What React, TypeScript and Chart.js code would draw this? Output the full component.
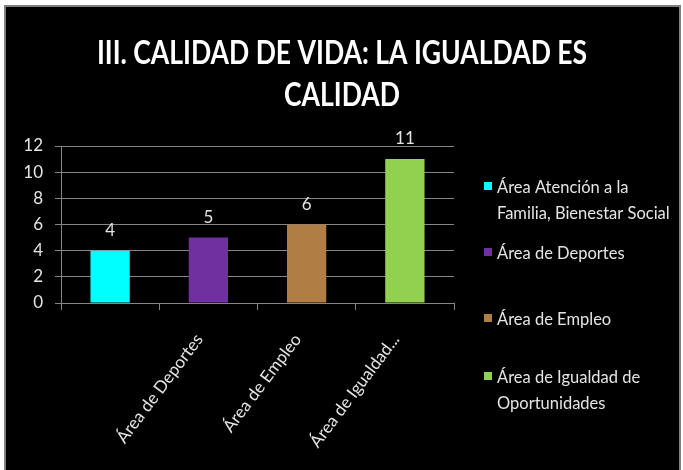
import React, { useEffect, useRef } from "react";
import { Chart, registerables } from "chart.js";

Chart.register(...registerables);

const TITLE_LINES = ["III. CALIDAD DE VIDA: LA IGUALDAD ES", "CALIDAD"];
const CATEGORIES = [
  "Área Atención a la Familia, Bienestar Social",
  "Área de Deportes",
  "Área de Empleo",
  "Área de Igualdad de Oportunidades",
];
const TICK_LABELS = ["", "Área de Deportes", "Área de Empleo", "Área de Igualdad..."];
const VALUES = [4, 5, 6, 11];
const COLORS = ["#00FFFF", "#7030A0", "#B07E45", "#92D050"];
const Y_MIN = 0;
const Y_MAX = 12;
const Y_STEP = 2;

const FONT = "Lato, 'Open Sans', sans-serif";
const TEXT_COLOR = "#E4E4E4";
const GRID_COLOR = "#868686";

const W = 683;
const H = 470;

const titlePlugin = {
  id: "customTitle",
  afterDraw(chart: any) {
    const ctx = chart.ctx;
    ctx.save();
    ctx.fillStyle = "#FFFFFF";
    ctx.font = `bold 32px ${FONT}`;
    ctx.textAlign = "center";
    ctx.textBaseline = "alphabetic";
    const baselines = [64, 106];
    const cx = 342;
    const squeeze = 0.83;
    ctx.translate(cx, 0);
    ctx.scale(squeeze, 1);
    TITLE_LINES.forEach((line, i) => ctx.fillText(line, 0, baselines[i]));
    ctx.restore();
  },
};

const valueLabelPlugin = {
  id: "valueLabels",
  afterDatasetsDraw(chart: any) {
    const ctx = chart.ctx;
    const meta = chart.getDatasetMeta(0);
    ctx.save();
    ctx.fillStyle = TEXT_COLOR;
    ctx.font = `17px ${FONT}`;
    ctx.textAlign = "center";
    ctx.textBaseline = "alphabetic";
    meta.data.forEach((bar: any, i: number) => {
      ctx.fillText(String(VALUES[i]), bar.x, bar.y - 15);
    });
    ctx.restore();
  },
};

function wrapText(ctx: CanvasRenderingContext2D, text: string, maxWidth: number): string[] {
  const words = text.split(" ");
  const lines: string[] = [];
  let cur = "";
  words.forEach((w) => {
    const test = cur ? cur + " " + w : w;
    if (ctx.measureText(test).width > maxWidth && cur) {
      lines.push(cur);
      cur = w;
    } else {
      cur = test;
    }
  });
  if (cur) lines.push(cur);
  return lines;
}

const legendPlugin = {
  id: "customLegend",
  afterDraw(chart: any) {
    const ctx = chart.ctx;
    ctx.save();
    ctx.font = `16.5px ${FONT}`;
    ctx.textAlign = "left";
    ctx.textBaseline = "alphabetic";
    const baselines = [193, 259, 325, 383];
    const lineHeight = 26;
    const markerX = 484;
    const textX = 497;
    CATEGORIES.forEach((label, i) => {
      const b = baselines[i];
      ctx.fillStyle = COLORS[i];
      ctx.fillRect(markerX, b - 11, 8, 8);
      ctx.fillStyle = TEXT_COLOR;
      const lines = wrapText(ctx, label, 178);
      lines.forEach((ln, j) => ctx.fillText(ln, textX, b + j * lineHeight));
    });
    ctx.restore();
  },
};

export default function App() {
  const canvasRef = useRef<HTMLCanvasElement | null>(null);

  useEffect(() => {
    if (!canvasRef.current) return;
    const chart = new Chart(canvasRef.current, {
      type: "bar",
      data: {
        labels: TICK_LABELS,
        datasets: [
          {
            data: VALUES,
            backgroundColor: COLORS,
            borderWidth: 0,
            categoryPercentage: 1,
            barPercentage: 0.4,
          },
        ],
      },
      options: {
        animation: false,
        responsive: false,
        layout: { padding: { left: 25, right: W - 454, top: 146, bottom: 0 } },
        plugins: {
          legend: { display: false },
          title: { display: false },
          tooltip: { enabled: false },
        },
        scales: {
          x: {
            grid: {
              offset: true,
              drawOnChartArea: false,
              drawTicks: true,
              tickLength: 7,
              color: GRID_COLOR,
            },
            border: { color: GRID_COLOR },
            ticks: {
              color: TEXT_COLOR,
              font: { family: FONT, size: 17 },
              minRotation: 53,
              maxRotation: 53,
              autoSkip: false,
              padding: 20,
              labelOffset: -9,
            },
            afterFit(scale: any) {
              scale.height = H - 303;
            },
          },
          y: {
            min: Y_MIN,
            max: Y_MAX,
            ticks: {
              stepSize: Y_STEP,
              color: TEXT_COLOR,
              font: { family: FONT, size: 17 },
              padding: 12,
            },
            grid: { color: GRID_COLOR, tickLength: 6, drawTicks: true },
            border: { color: GRID_COLOR },
            afterFit(scale: any) {
              scale.width = 36;
            },
          },
        },
      },
      plugins: [titlePlugin, valueLabelPlugin, legendPlugin],
    });
    return () => chart.destroy();
  }, []);

  return (
    <div style={{ position: "absolute", left: 0, top: 0, width: W, height: H, background: "#FFFFFF", overflow: "hidden" }}>
      <div
        style={{
          position: "absolute",
          left: 4,
          top: 5,
          right: 2,
          bottom: 0,
          background: "#000000",
          borderLeft: "2px solid #7F7F7F",
          borderTop: "2px solid #7F7F7F",
          borderRight: "2px solid #7F7F7F",
        }}
      />
      <canvas ref={canvasRef} width={W} height={H} style={{ position: "absolute", left: 0, top: 0, width: W, height: H }} />
    </div>
  );
}
